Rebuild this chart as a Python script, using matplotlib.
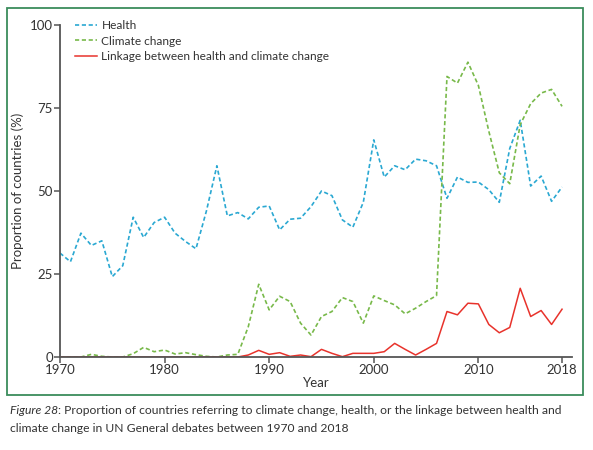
import matplotlib
matplotlib.use("Agg")
import matplotlib.pyplot as plt
from matplotlib.patches import Rectangle

years = list(range(1970, 2019))

health = [31.3, 28.7, 37.3, 33.6, 35.0, 24.2, 27.5, 42.1, 36.0, 40.5,
          42.1, 37.3, 34.8, 32.6, 44.0, 57.6, 42.5, 43.5, 41.6, 45.1,
          45.5, 38.3, 41.5, 41.8, 45.3, 50.0, 48.6, 41.3, 39.1, 46.6,
          65.4, 54.2, 57.6, 56.4, 59.6, 59.1, 57.6, 47.8, 54.2, 52.6,
          52.7, 50.4, 46.6, 62.8, 71.3, 51.5, 54.5, 46.9, 51.2]

climate = [0.0, 0.0, 0.0, 0.8, 0.2, 0.0, 0.0, 1.0, 2.9, 1.6,
           2.1, 0.9, 1.3, 0.7, 0.2, 0.0, 0.6, 0.8, 9.1, 21.9,
           14.2, 18.3, 16.7, 10.2, 6.6, 12.2, 13.7, 17.9, 16.7, 10.2,
           18.4, 17.0, 15.7, 13.0, 14.7, 16.7, 18.5, 84.5, 82.5, 88.8,
           81.8, 68.0, 55.5, 52.2, 70.0, 76.3, 79.5, 80.6, 75.5]

linkage = [0.0, 0.0, 0.0, 0.0, 0.0, 0.0, 0.0, 0.0, 0.0, 0.0,
           0.0, 0.0, 0.0, 0.0, 0.0, 0.0, 0.0, 0.0, 0.6, 2.0,
           0.8, 1.3, 0.2, 0.6, 0.1, 2.3, 1.1, 0.1, 1.1, 1.1,
           1.1, 1.6, 4.1, 2.3, 0.6, 2.3, 4.1, 13.7, 12.7, 16.2,
           16.0, 9.8, 7.3, 8.9, 20.7, 12.2, 14.0, 9.8, 14.4]

xticks = [1970, 1980, 1990, 2000, 2010, 2018]
yticks = [0, 25, 50, 75, 100]

cap_head = 'Figure 28'
cap1 = ': Proportion of countries referring to climate change, health, or the linkage between health and'
cap2 = 'climate change in UN General debates between 1970 and 2018'

plt.rcParams['font.family'] = ['Lato', 'DejaVu Sans']
txt = '#333333'
axc = '#555555'
W, H = 593, 450

fig = plt.figure(figsize=(W / 100, H / 100), dpi=100)

# green frame around the panel
fig.patches.append(Rectangle((7 / W, 1 - 395 / H), 576 / W, 387 / H,
                             transform=fig.transFigure, fill=False,
                             edgecolor='#3a8c5c', linewidth=1.3))

ax = fig.add_axes([60 / W, 93 / H, 512.5 / W, 332 / H])
ax.plot(years, health, color='#2aa8d2', lw=1.2, ls=(0, (2.5, 1.6)), label='Health')
ax.plot(years, climate, color='#78b94a', lw=1.2, ls=(0, (2.5, 1.6)), label='Climate change')
ax.plot(years, linkage, color='#e8332c', lw=1.1, label='Linkage between health and climate change')

ax.set_xlim(1970, 2019)
ax.set_ylim(0, 100)
ax.set_xticks(xticks)
ax.set_yticks(yticks)
for s in ['top', 'right']:
    ax.spines[s].set_visible(False)
for s in ['left', 'bottom']:
    ax.spines[s].set_color(axc)
    ax.spines[s].set_linewidth(1.3)
ax.tick_params(colors=axc, labelcolor=txt, labelsize=9.5, length=4, width=1.1, pad=1)
ax.set_xlabel('Year', color=txt, fontsize=9.5, labelpad=1)
ax.set_ylabel('Proportion of countries (%)', color=txt, fontsize=9.5, labelpad=4)

ax.legend(loc='upper left', bbox_to_anchor=(0.005, 1.05), frameon=False, fontsize=8.6,
          handlelength=1.9, handletextpad=0.35, labelspacing=0.35, labelcolor=txt,
          borderaxespad=0.6, borderpad=0.4)

# caption: italic head + regular rest, sized so line 1 ends near x=560
fs = 10
y1 = 1 - 411 / H
t_head = fig.text(10 / W, y1, cap_head, fontsize=fs, color=txt, va='center', style='italic')
t_rest = fig.text(0, y1, cap1, fontsize=fs, color=txt, va='center')
fig.canvas.draw()
r = fig.canvas.get_renderer()
total = t_head.get_window_extent(r).width + t_rest.get_window_extent(r).width
fs = fs * 550 / total
t_head.set_fontsize(fs)
t_rest.set_fontsize(fs)
fig.canvas.draw()
t_rest.set_x(t_head.get_window_extent(r).x1 / W)
fig.text(10 / W, 1 - 429 / H, cap2, fontsize=fs, color=txt, va='center')

fig.savefig('out.png', dpi=100)
